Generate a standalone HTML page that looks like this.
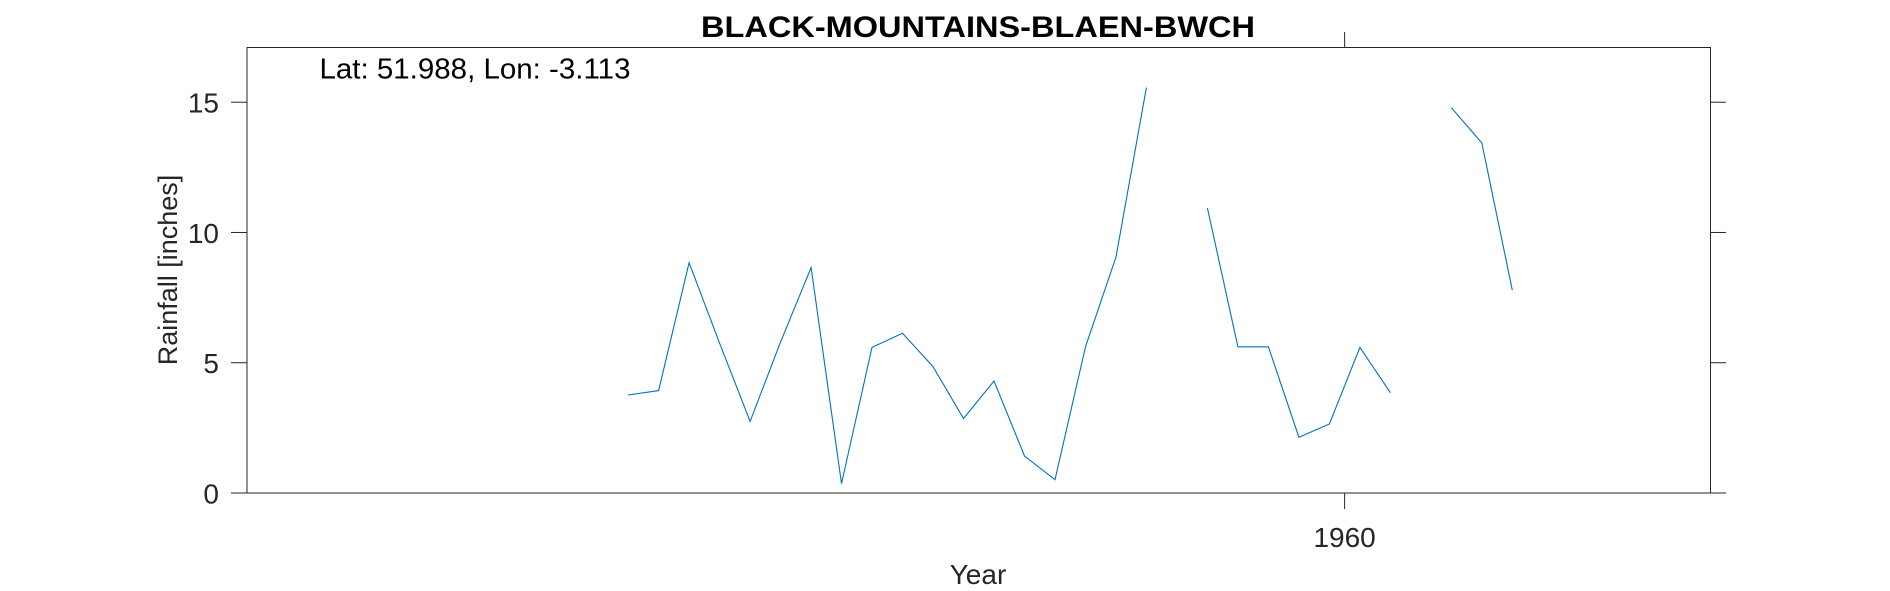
<!DOCTYPE html>
<html><head><meta charset="utf-8"><style>
html,body{margin:0;padding:0;background:#fff;}
svg{display:block;font-family:"Liberation Sans",sans-serif;}
</style></head><body>
<svg id="chart" width="1890" height="591" viewBox="0 0 1890 591">
<text x="978" y="37" text-anchor="middle" font-size="30" font-weight="bold" textLength="554" lengthAdjust="spacingAndGlyphs" fill="#000">BLACK-MOUNTAINS-BLAEN-BWCH</text>
<rect x="247" y="47.5" width="1463.5" height="445.5" fill="none" stroke="#262626" stroke-width="1"/>
<text x="319.5" y="78.5" font-size="29" textLength="311" lengthAdjust="spacingAndGlyphs" fill="#000">Lat: 51.988, Lon: -3.113</text>
<g id="yticks"></g>
<g id="xticks"></g>
<g id="series"></g>
<text transform="translate(177,270) rotate(-90)" text-anchor="middle" font-size="27" fill="#262626">Rainfall [inches]</text>
<text x="978" y="584" text-anchor="middle" font-size="28" fill="#262626">Year</text>
</svg>
<script>
const years = [1936,1937,1938,1939,1940,1941,1942,1943,1944,1945,1946,1947,1948,1949,1950,1951,1952,1953,1954,1955,1956,1957,1958,1959,1960,1961,1962,1963,1964,1965];
const rainfall = [3.76,3.93,8.84,5.75,2.75,5.8,8.65,0.36,5.59,6.13,4.85,2.86,4.30,1.42,0.51,5.61,9.06,15.56,null,10.94,5.61,5.61,2.14,2.65,5.59,3.85,null,14.79,13.44,7.79];
const yTickValues = [0,5,10,15];
const xTickValues = [1960];
const xTickLabels = ["1960"];
const NS = "http://www.w3.org/2000/svg";
const X0=247, X1=1710.5, Y0=493, Y1=47.5, XMIN=1924, XMAX=1972, YMIN=0, YMAX=17.1;
function xs(v){return X0+(v-XMIN)/(XMAX-XMIN)*(X1-X0);}
function ys(v){return Y0-(v-YMIN)/(YMAX-YMIN)*(Y0-Y1);}
function mk(tag,attrs,parent){const e=document.createElementNS(NS,tag);for(const k in attrs)e.setAttribute(k,attrs[k]);parent.appendChild(e);return e;}
const yg=document.getElementById('yticks');
yTickValues.forEach(v=>{
  const y=ys(v);
  const t1=mk('line',{x1:231,x2:247,y1:y,y2:y,stroke:'#262626','stroke-width':1},yg);
  
  
  const t2=mk('line',{x1:1710.5,x2:1726,y1:y,y2:y,stroke:'#262626','stroke-width':1},yg);
  
  
  const tx=mk('text',{x:219,y:y+10.5,'text-anchor':'end','font-size':28,fill:'#262626'},yg);
  tx.textContent=String(v);
  
  
});
const xg=document.getElementById('xticks');
xTickValues.forEach((v,i)=>{
  const x=xs(v);
  const a=mk('line',{x1:x,x2:x,y1:493,y2:509,stroke:'#262626','stroke-width':1},xg);
  
  
  const b=mk('line',{x1:x,x2:x,y1:32,y2:47.5,stroke:'#262626','stroke-width':1},xg);
  
  
  const tx=mk('text',{x:x,y:547,'text-anchor':'middle','font-size':28,fill:'#262626'},xg);
  tx.textContent=xTickLabels[i];
  
  
});
const sg=document.getElementById('series');
let seg=[];
function flush(){
  if(seg.length>1){
    const p=mk('polyline',{points:seg.join(' '),fill:'none',stroke:'#0072BD','stroke-width':1.1},sg);
    
    
  }
  seg=[];
}
years.forEach((yr,i)=>{
  const v=rainfall[i];
  if(v===null){flush();return;}
  seg.push(xs(yr+0.5).toFixed(1)+','+ys(v).toFixed(1));
});
flush();
</script>
</body></html>
